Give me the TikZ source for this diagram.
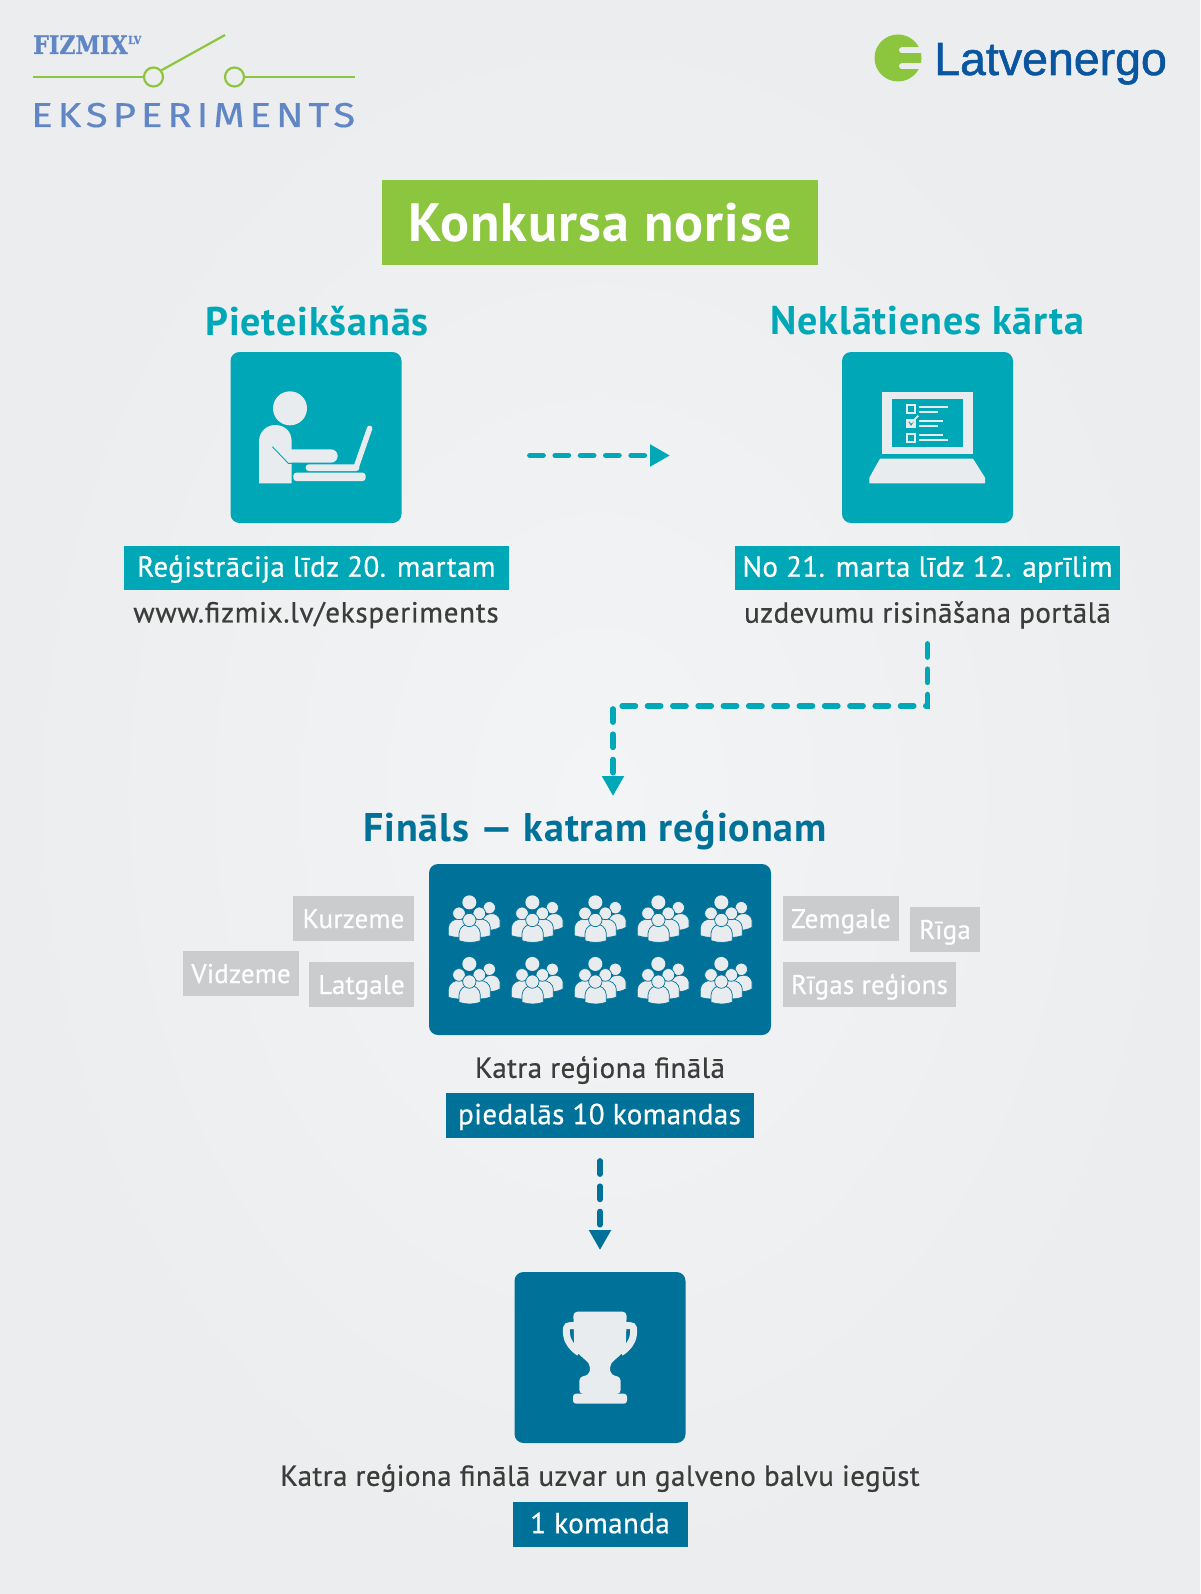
\documentclass[tikz,border=0pt]{standalone}
\usepackage{fontspec}
\setmainfont{PT Sans}
\newfontfamily\medfont[LetterSpace=1.5,FakeBold=0.6]{PT Sans}
\newfontfamily\urlfont[LetterSpace=2.6,FakeBold=0.6]{PT Sans}
\newfontfamily\tagfont[LetterSpace=0.8,FakeBold=0.5]{PT Sans}
\newfontfamily\headfont[LetterSpace=2.2]{PT Sans}
\newfontfamily\titlefont[LetterSpace=2]{PT Sans}
\newfontfamily\slabfont[FakeStretch=0.87,FakeBold=1]{DejaVu Serif}
\newfontfamily\eksfont[LetterSpace=14,FakeStretch=1.17,FakeBold=0.3]{Fira Sans}
\newfontfamily\lefont[FakeBold=1.2]{Liberation Sans}
\usetikzlibrary{arrows.meta}
\definecolor{bgout}{HTML}{ECEDEF}
\definecolor{bgin}{HTML}{F3F4F5}
\definecolor{grn}{HTML}{8CC63F}
\definecolor{teal1}{HTML}{00A7B7}
\definecolor{blue1}{HTML}{007299}
\definecolor{txt}{HTML}{3C3C3B}
\definecolor{grayl}{HTML}{CBCCCE}
\definecolor{ice}{HTML}{E9ECEE}
\definecolor{logoblue}{HTML}{6186C6}
\definecolor{lvblue}{HTML}{0A55A0}
\newcommand{\fs}[1]{\fontsize{#1}{#1}\selectfont}
\tikzset{
  iconbox/.style={rounded corners=9pt,minimum width=171pt,minimum height=171pt,inner sep=0pt},
  bar/.style={inner sep=0pt,text=white,font=\medfont\fs{29},text height=20pt,text depth=2.6pt},
  graytag/.style={fill=grayl,text=white,inner sep=0pt,minimum height=45pt,font=\tagfont\fs{27},text height=20pt,text depth=1pt},
  head/.style={font=\headfont\bfseries\fs{40}},
  plain/.style={text=txt,font=\medfont\fs{29},inner sep=0pt},
  dashline/.style={line width=5.8pt,line cap=round,dash pattern=on 13pt off 12.3pt,-{Triangle[length=20pt,width=21pt]}},
  pers/.style={fill=ice,draw=blue1,line width=.7pt},
  pics/team/.style={code={
    \begin{scope}[scale=1/3]
      \fill[ice] (118,97) circle[radius=21];
      \path[pers] (150,165) .. controls (158,122) and (204,122) .. (210,150) -- (210,172) .. controls (195,180) and (180,182) .. (160,180) -- cycle;
      \path[pers] (178,113) circle[radius=18.5];
      \path[pers] (55,197) -- (55,172) .. controls (58,138) and (117,138) .. (120,172) -- (120,197) .. controls (100,204) and (75,204) .. (55,197) -- cycle;
      \path[pers] (115,197) -- (115,172) .. controls (118,138) and (178,138) .. (181,172) -- (181,197) .. controls (160,204) and (135,204) .. (115,197) -- cycle;
      \path[pers] (87,130) circle[radius=19];
      \path[pers] (148,130) circle[radius=19];
      \path[pers] (87,212) -- (87,190) .. controls (90,152) and (148,152) .. (151,190) -- (151,212) .. controls (130,219) and (108,219) .. (87,212) -- cycle;
      \path[pers] (118,150) circle[radius=20];
    \end{scope}
  }}
}
\begin{document}
\begin{tikzpicture}[x=1pt,y=-1pt]
\useasboundingbox (0,0) rectangle (1200,1594);
\shade[inner color=bgin,outer color=bgout] (0,0) rectangle (1200,1594);

% ---- FIZMIX logo
\node (fizmix) [anchor=base west,inner sep=0pt,text=logoblue,font=\slabfont\bfseries\fs{25.5}] at (33,54) {FIZMIX};
\node (fizlv) [anchor=base west,inner sep=0pt,text=logoblue,font=\slabfont\bfseries\fs{11}] at (128,44) {LV};
\node (sw1) [circle,draw=grn,line width=2.2pt,minimum size=19pt,inner sep=0pt] at (153.5,77) {};
\node (sw2) [circle,draw=grn,line width=2.2pt,minimum size=19pt,inner sep=0pt] at (234.5,77) {};
\coordinate (swa) at (33,77);
\coordinate (swb) at (355,77);
\coordinate (swc) at (225,35);
\draw[grn,line width=2.2pt] (swa) -- (sw1.west);
\draw[grn,line width=2.2pt] (sw2.east) -- (swb);
\draw[grn,line width=2.2pt] (sw1.40) -- (swc);
\node (eks) [anchor=base west,inner sep=0pt,text=logoblue,font=\eksfont\fs{34.5}] at (31,127) {EKSPERIMENTS};

% ---- Latvenergo logo
\node (lvc) [circle,fill=grn,minimum size=47pt,inner sep=0pt] at (898,58) {};
\draw[bgout,line width=6pt,line cap=round] (902,50.5) -- (925,50.5);
\draw[bgout,line width=6pt,line cap=round] (902,66.5) -- (925,66.5);
\node (lv) [anchor=base west,inner sep=0pt,text=lvblue,font=\lefont\fs{46.5}] at (934,75) {Latvenergo};

% ---- Title
\node (title) [fill=grn,text=white,minimum width=436pt,minimum height=85pt,inner sep=0pt,font=\titlefont\bfseries\fs{54}] at (600,222.5) {Konkursa norise};

% ---- Column headings and icon boxes
\node (h1) [head,text=teal1] at (317,321) {Pieteikšanās};
\node (h2) [head,text=teal1] at (927.5,321) {Neklātienes kārta};
\node (box1) [iconbox,fill=teal1] at (316,437.5) {};
\node (box2) [iconbox,fill=teal1] at (927.5,437.5) {};

% person at laptop
\begin{scope}[shift={(220,345)},scale=1/3]
  \fill[ice] (210,190) circle[radius=51];
  \fill[ice] (117,415) -- (117,290) .. controls (117,255) and (145,240) .. (165,240) .. controls (195,240) and (215,260) .. (215,290) -- (215,313) -- (332,313) .. controls (360,313) and (360,353) .. (332,353) -- (215,353) -- (215,415) -- cycle;
  \draw[teal1,line width=.9pt] (157,305) -- (205,355) -- (240,355);
  \fill[ice,rounded corners=3pt] (257,358) rectangle (418,378);
  \draw[ice,line width=5.5pt,line cap=round] (408,368) -- (449,250);
  \fill[ice,rounded corners=3pt] (220,383) rectangle (437,408);
\end{scope}

% laptop with checklist
\begin{scope}[shift={(835,345)},scale=1/3]
  \fill[ice] (141,140) rectangle (413,328);
  \fill[teal1] (170,163) rectangle (385,305);
  \fill[ice] (135,341) -- (414,341) -- (450,398) -- (450,415) -- (103,415) -- (103,398) -- cycle;
  \draw[ice,line width=2.2pt] (217,181) rectangle (240,205);
  \fill[ice] (214,222) rectangle (242,250);
  \draw[teal1,line width=1pt] (222,230) -- (228,240) -- (236,228);
  \draw[ice,line width=1.6pt] (230,232) -- (250,212);
  \draw[ice,line width=2.2pt] (217,267) rectangle (240,290);
  \draw[ice,line width=1.9pt] (251,185) -- (340,185) (251,200) -- (308,200);
  \draw[ice,line width=1.9pt] (251,228) -- (324,228) (251,242) -- (308,242);
  \draw[ice,line width=1.9pt] (251,270) -- (324,270) (251,285) -- (340,285);
\end{scope}

% ---- Date bars
\node (b1) [bar,fill=teal1,minimum width=384.5pt,minimum height=44pt] at (316.3,568) {Reģistrācija līdz 20. martam};
\node (t1) [plain,font=\urlfont\fs{29}] at (316,615) {www.fizmix.lv/eksperiments};
\node (b2) [bar,fill=teal1,minimum width=385pt,minimum height=44pt] at (927.5,568) {No 21. marta līdz 12. aprīlim};
\node (t2) [plain] at (927.5,615) {uzdevumu risināšana portālā};

% ---- Connectors
\coordinate (a1s) at (530,455.5);
\coordinate (a1e) at (670,455.5);
\draw[teal1,dashline] (a1s) -- (a1e);
\coordinate (a2s) at (927.5,644);
\coordinate (a2m) at (927.5,706);
\coordinate (a2n) at (613,706);
\coordinate (a2e) at (613,796);
\draw[teal1,dashline] (a2s) -- (a2m) -- (a2n) -- (a2e);

% ---- Final
\node (h3) [head,text=blue1] at (595,830) {Fināls — katram reģionam};
\node (box3) [fill=blue1,rounded corners=9pt,minimum width=342pt,minimum height=171pt,inner sep=0pt] at (600,949.5) {};
\foreach \i in {0,1,2,3,4}{
  \pic at ({430+63*\i},870) {team};
  \pic at ({430+63*\i},931.6) {team};
}
\node (g1) [graytag,minimum width=121pt] at (353.5,918.5) {Kurzeme};
\node (g2) [graytag,minimum width=116pt] at (241,973.5) {Vidzeme};
\node (g3) [graytag,minimum width=105pt] at (361.5,984.5) {Latgale};
\node (g4) [graytag,minimum width=116pt] at (841,918.5) {Zemgale};
\node (g5) [graytag,minimum width=70pt] at (945,929.5) {Rīga};
\node (g6) [graytag,minimum width=173pt] at (869.5,984.5) {Rīgas reģions};
\node (t3) [plain] at (600,1070) {Katra reģiona finālā};
\node (b3) [bar,fill=blue1,minimum width=308pt,minimum height=44.5pt] at (599.5,1115.5) {piedalās 10 komandas};
\coordinate (a3s) at (600,1161);
\coordinate (a3e) at (600,1250);
\draw[blue1,dashline] (a3s) -- (a3e);

% ---- Trophy
\node (box4) [iconbox,fill=blue1] at (600,1357.5) {};
\begin{scope}[shift={(510,1270)},scale=1/3]
  \draw[ice,line width=7pt] (195,167) -- (180,167) .. controls (168,167) and (168,178) .. (170,195) .. controls (173,218) and (188,235) .. (208,248);
  \draw[ice,line width=7pt] (345,167) -- (360,167) .. controls (372,167) and (372,178) .. (370,195) .. controls (367,218) and (352,235) .. (332,248);
  \fill[ice,rounded corners=4pt] (190,125) -- (350,125) -- (348,215) .. controls (345,250) and (312,268) .. (298,290) -- (304,316) -- (332,320) -- (332,372) -- (208,372) -- (208,320) -- (236,316) -- (242,290) .. controls (228,268) and (195,250) .. (192,215) -- cycle;
  \fill[ice,rounded corners=3pt] (189,371) rectangle (351,401);
\end{scope}

\node (t4) [plain] at (600,1478) {Katra reģiona finālā uzvar un galveno balvu iegūst};
\node (b4) [bar,fill=blue1,minimum width=175pt,minimum height=45pt] at (600,1524.5) {1 komanda};
\end{tikzpicture}
\end{document}
